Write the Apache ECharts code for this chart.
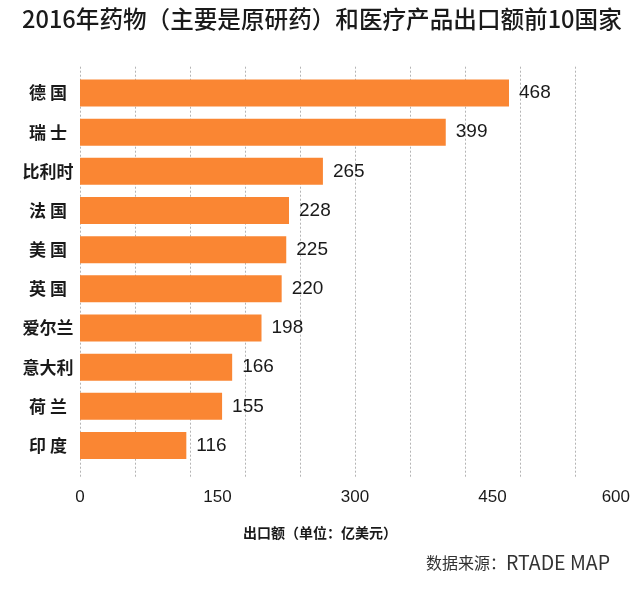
<!DOCTYPE html>
<html><head><meta charset="utf-8">
<script src="https://cdn.jsdelivr.net/npm/echarts@6/dist/echarts.min.js"></script>
<style>html,body{margin:0;padding:0;background:#fff}#c{width:640px;height:601px}</style>
</head><body><div id="c"></div>
<script>
const countries = ['德国','瑞士','比利时','法国','美国','英国','爱尔兰','意大利','荷兰','印度'];
const exportValues = [468,399,265,228,225,220,198,166,155,116];
const xTickLabels = [0,150,300,450,600];
const titleText = '2016年药物（主要是原研药）和医疗产品出口额前10国家';
const axisNameText = '出口额（单位：亿美元）';
const sourceLabel = '数据来源：';
const sourceName = 'RTADE MAP';

const cjk = '"Noto Sans CJK SC", "Noto Sans", sans-serif';
const num = '"Liberation Sans", Arial, "Noto Sans CJK SC", sans-serif';

const chart = echarts.init(document.getElementById('c'));
chart.setOption({
  backgroundColor: '#fff',
  animation: false,
  grid: [
    {left: 80, right: 10, top: 66.7, bottom: 123, outerBoundsMode: 'none', containLabel: false},
    {left: 80, right: 10, top: 73.4, height: 391.7, outerBoundsMode: 'none', containLabel: false}
  ],
  xAxis: [
    {
      gridIndex: 0, type: 'value', position: 'bottom', min: 0, max: 600, interval: 150,
      axisLine: {show: false}, axisTick: {show: false}, splitLine: {show: false},
      axisLabel: {
        margin: 11, fontSize: 17, color: '#1a1a1a', fontFamily: num,
        alignMaxLabel: 'right',
        formatter: v => (xTickLabels.indexOf(v) >= 0 ? String(v) : '')
      }
    },
    {
      gridIndex: 0, type: 'value', position: 'top', min: 0, max: 600, interval: 60,
      axisLine: {show: false}, axisTick: {show: false}, axisLabel: {show: false},
      splitLine: {show: true, showMaxLine: false, lineStyle: {color: '#b4b4b4', type: [2, 2], width: 1}}
    },
    {gridIndex: 1, type: 'value', min: 0, max: 600, show: false, splitLine: {show: false}}
  ],
  yAxis: [
    {gridIndex: 0, type: 'value', min: 0, max: 1, show: false},
    {
      gridIndex: 1, type: 'category', data: countries, inverse: true,
      axisLine: {show: false}, axisTick: {show: false},
      axisLabel: {
        margin: 32, align: 'center', fontSize: 17, color: '#1a1a1a', fontWeight: 'bold', fontFamily: cjk,
        formatter: v => (v.length === 2 ? v[0] + ' ' + v[1] : v)
      }
    }
  ],
  series: [{
    type: 'bar', xAxisIndex: 2, yAxisIndex: 1,
    data: exportValues, barWidth: 27,
    itemStyle: {color: '#fa8633'},
    label: {show: true, position: 'right', distance: 10, fontSize: 19, color: '#1a1a1a', fontFamily: num}
  }],
  graphic: [
    {type: 'text', x: 22, y: 19.5, style: {text: titleText, fill: '#1a1a1a', fontSize: 23.6, fontWeight: 500, fontFamily: cjk, align: 'left', verticalAlign: 'middle'}},
    {type: 'text', x: 320, y: 533, style: {text: axisNameText, fill: '#1a1a1a', fontSize: 14, fontWeight: 'bold', fontFamily: cjk, align: 'center', verticalAlign: 'middle'}},
    {type: 'text', x: 610, y: 563, style: {
      text: '{a|' + sourceLabel + '}{b|' + sourceName + '}', align: 'right', verticalAlign: 'middle',
      rich: {a: {fontSize: 16, fill: '#333', fontFamily: cjk}, b: {fontSize: 19.5, fill: '#333', fontFamily: cjk}}
    }}
  ]
});
</script></body></html>
